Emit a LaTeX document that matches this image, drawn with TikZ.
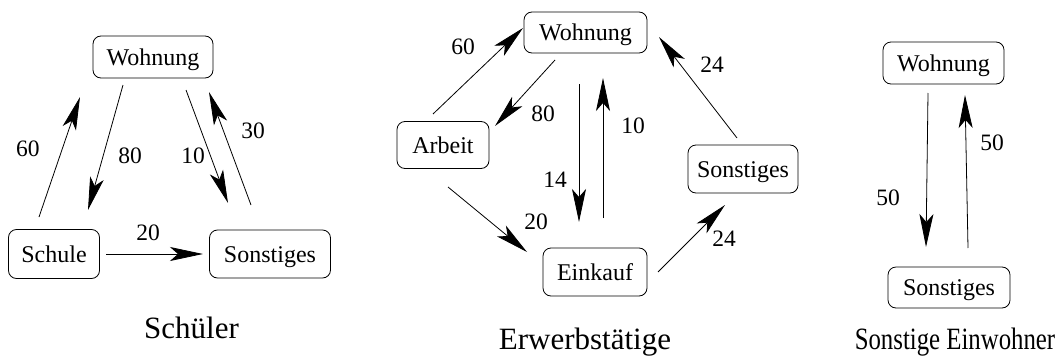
\documentclass[tikz,border=0pt]{standalone}
\usepackage{fontspec}
\usepackage{graphicx}
\setmainfont{Liberation Serif}
\usetikzlibrary{arrows.meta}
\tikzset{
  place/.style={draw, line width=0.8pt, rounded corners=8pt, inner sep=0pt,
    font=\fontsize{24}{28}\selectfont, text height=16pt, text depth=0pt},
  flow/.style={line width=0.8pt, -{Stealth[length=33pt,width=14pt,inset=8pt]}},
  num/.style={font=\fontsize{23.5}{28}\selectfont, inner sep=0pt},
  title/.style={font=\fontsize{31}{36}\selectfont, inner sep=0pt, anchor=base},
}
\begin{document}
\begin{tikzpicture}[x=1pt,y=-1pt]
\useasboundingbox (0,0) rectangle (1062,356);
% ---------- Schueler ----------
\node[place, minimum width=120pt, minimum height=42pt] (sW) at (153,57) {Wohnung};
\node[place, minimum width=91pt, minimum height=49pt] (sS) at (54,254) {Schule};
\node[place, minimum width=121pt, minimum height=48pt] (sO) at (270,254) {Sonstiges};
\coordinate (s60a) at (39,217);  \coordinate (s60b) at (80,97);
\coordinate (s80a) at (123,85);  \coordinate (s80b) at (88,210);
\coordinate (s10a) at (186,90);  \coordinate (s10b) at (228,203);
\coordinate (s30a) at (251,205); \coordinate (s30b) at (209,92);
\coordinate (s20a) at (106,254); \coordinate (s20b) at (203,254);
\draw[flow] (s60a) -- (s60b);
\draw[flow] (s80a) -- (s80b);
\draw[flow] (s10a) -- (s10b);
\draw[flow] (s30a) -- (s30b);
\draw[flow] (s20a) -- (s20b);
\node[num] (ls60) at (28,149) {60};
\node[num] (ls80) at (130,156) {80};
\node[num] (ls10) at (193,156) {10};
\node[num] (ls30) at (253,131) {30};
\node[num] (ls20) at (148,233) {20};
\node[title] (tS) at (191.5,338) {Schüler};
% ---------- Erwerbstaetige ----------
\node[place, minimum width=123pt, minimum height=41pt] (eW) at (585.5,32.5) {Wohnung};
\node[place, minimum width=92pt, minimum height=47pt] (eA) at (443,145) {Arbeit};
\node[place, minimum width=110pt, minimum height=48pt] (eO) at (743,169) {Sonstiges};
\node[place, minimum width=104pt, minimum height=48pt] (eE) at (595,272) {Einkauf};
\coordinate (e60a) at (433,114); \coordinate (e60b) at (523,28);
\coordinate (e80a) at (555,60);  \coordinate (e80b) at (495,126);
\coordinate (e14a) at (579,84);  \coordinate (e14b) at (579,222);
\coordinate (e10a) at (603,218); \coordinate (e10b) at (603,78);
\coordinate (e24a) at (737,138); \coordinate (e24b) at (659,37);
\coordinate (e20a) at (448,187); \coordinate (e20b) at (527,252);
\coordinate (e24c) at (658,272); \coordinate (e24d) at (725,205);
\draw[flow] (e60a) -- (e60b);
\draw[flow] (e80a) -- (e80b);
\draw[flow] (e14a) -- (e14b);
\draw[flow] (e10a) -- (e10b);
\draw[flow] (e24a) -- (e24b);
\draw[flow] (e20a) -- (e20b);
\draw[flow] (e24c) -- (e24d);
\node[num] (le60) at (463,47) {60};
\node[num] (le80) at (543,114) {80};
\node[num] (le14) at (555,180) {14};
\node[num] (le10) at (633,126) {10};
\node[num] (le24a) at (712,65) {24};
\node[num] (le20) at (536,222) {20};
\node[num] (le24b) at (724,239) {24};
\node[title] (tE) at (585,349) {Erwerbstätige};
% ---------- Sonstige Einwohner ----------
\node[place, minimum width=121pt, minimum height=42pt] (oW) at (943.5,63) {Wohnung};
\node[place, minimum width=122pt, minimum height=41pt] (oS) at (949,287.5) {Sonstiges};
\coordinate (o50a) at (928,93);  \coordinate (o50b) at (926,247);
\coordinate (o50c) at (968,248); \coordinate (o50d) at (965,95);
\draw[flow] (o50a) -- (o50b);
\draw[flow] (o50c) -- (o50d);
\node[num] (lo50a) at (888,198) {50};
\node[num] (lo50b) at (992,143) {50};
\node[title] (tO) at (955,349) {\scalebox{0.8}[1]{Sonstige Einwohner}};
\end{tikzpicture}
\end{document}
